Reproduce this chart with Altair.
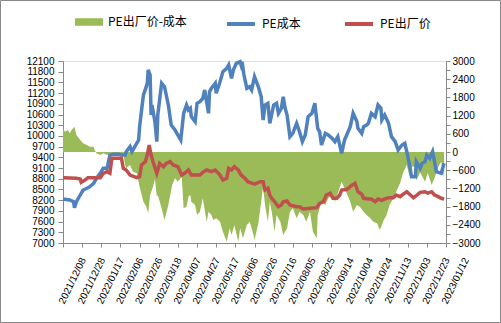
import altair as alt
import pandas as pd

# ---------------- data ----------------
cost_dates = [
    "2021-12-08", "2021-12-15", "2021-12-19", "2021-12-20", "2021-12-22", "2021-12-26",
    "2021-12-29", "2022-01-02", "2022-01-05", "2022-01-09", "2022-01-12", "2022-01-16",
    "2022-01-19", "2022-01-23", "2022-01-26", "2022-01-30", "2022-02-04", "2022-02-07",
    "2022-02-11", "2022-02-12", "2022-02-16", "2022-02-18", "2022-02-21", "2022-02-25",
    "2022-02-26", "2022-03-02", "2022-03-05", "2022-03-06", "2022-03-07", "2022-03-09",
    "2022-03-10", "2022-03-11", "2022-03-14", "2022-03-16", "2022-03-17", "2022-03-21",
    "2022-03-24", "2022-03-28", "2022-03-31", "2022-04-04", "2022-04-07", "2022-04-10",
    "2022-04-13", "2022-04-16", "2022-04-18", "2022-04-20", "2022-04-21", "2022-04-25",
    "2022-04-27", "2022-04-30", "2022-05-03", "2022-05-05", "2022-05-07", "2022-05-09",
    "2022-05-10", "2022-05-12", "2022-05-16", "2022-05-17", "2022-05-21", "2022-05-24",
    "2022-05-28", "2022-05-30", "2022-06-02", "2022-06-04", "2022-06-07", "2022-06-11",
    "2022-06-12", "2022-06-13", "2022-06-15", "2022-06-18", "2022-06-21", "2022-06-23",
    "2022-06-26", "2022-06-30", "2022-07-03", "2022-07-05", "2022-07-07", "2022-07-10",
    "2022-07-12", "2022-07-16", "2022-07-19", "2022-07-21", "2022-07-24", "2022-07-26",
    "2022-07-28", "2022-07-30", "2022-08-02", "2022-08-05", "2022-08-09", "2022-08-12",
    "2022-08-15", "2022-08-18", "2022-08-21", "2022-08-25", "2022-08-28", "2022-08-31",
    "2022-09-02", "2022-09-04", "2022-09-08", "2022-09-11", "2022-09-15", "2022-09-18",
    "2022-09-21", "2022-09-25", "2022-09-28", "2022-10-04", "2022-10-07", "2022-10-11",
    "2022-10-12", "2022-10-16", "2022-10-18", "2022-10-21", "2022-10-23", "2022-10-26",
    "2022-10-30", "2022-11-02", "2022-11-05", "2022-11-06", "2022-11-09", "2022-11-13",
    "2022-11-16", "2022-11-20", "2022-11-23", "2022-11-27", "2022-11-30", "2022-12-02",
    "2022-12-05", "2022-12-07", "2022-12-11", "2022-12-12", "2022-12-16", "2022-12-18",
    "2022-12-21", "2022-12-23", "2022-12-26", "2022-12-29", "2022-12-31", "2023-01-02",
    "2023-01-07", "2023-01-10",
]
cost_vals = [
    8233, 8205, 8157, 7990, 8157, 8345,
    8485, 8533, 8578, 8673, 8813, 8960,
    9093, 9093, 9466, 9485, 9485, 9466,
    9466, 9559, 9700, 9559, 9700, 9886,
    10260, 11147, 11380, 11475, 11850, 11707,
    10587, 10867, 10400, 9840, 10587, 11475,
    11380, 10867, 10306, 10166, 10026, 9886,
    10634, 10867, 10727, 10774, 10540, 10400,
    10914, 10960, 11054, 11287, 10960, 10634,
    11240, 11335, 11475, 11195, 11520, 11800,
    11895, 11988, 11615, 11850, 12035, 12080,
    11988, 12080, 11707, 11335, 11380, 11287,
    11660, 11380, 11100, 10446, 10867, 10914,
    10354, 10867, 10914, 10634, 10774, 11100,
    10774, 10587, 9980, 10073, 10354, 10120,
    9840, 10026, 10540, 10634, 10914, 10213,
    10120, 9746, 10073, 10026, 9933, 9840,
    9980, 9513, 9886, 10259, 10634, 10400,
    10213, 10073, 10259, 10306, 10354, 10634,
    10540, 10867, 10774, 10446, 10587, 10354,
    9980, 9840, 9606, 9746, 9793, 9559,
    9186, 8858, 8858, 9278, 9093, 9233,
    9278, 9466, 9373, 9559, 9278, 8998,
    8953, 9233,
]

price_dates = [
    "2021-12-08", "2021-12-22", "2021-12-26", "2021-12-27", "2021-12-31", "2022-01-03",
    "2022-01-16", "2022-01-19", "2022-01-23", "2022-01-26", "2022-01-28", "2022-02-07",
    "2022-02-09", "2022-02-12", "2022-02-16", "2022-02-23", "2022-02-26", "2022-02-28",
    "2022-03-04", "2022-03-06", "2022-03-08", "2022-03-10", "2022-03-12", "2022-03-16",
    "2022-03-19", "2022-03-23", "2022-03-26", "2022-03-30", "2022-04-02", "2022-04-07",
    "2022-04-11", "2022-04-14", "2022-04-18", "2022-04-21", "2022-04-30", "2022-05-03",
    "2022-05-07", "2022-05-12", "2022-05-16", "2022-05-21", "2022-05-24", "2022-05-28",
    "2022-05-30", "2022-06-02", "2022-06-05", "2022-06-09", "2022-06-12", "2022-06-16",
    "2022-06-19", "2022-06-26", "2022-07-02", "2022-07-05", "2022-07-07", "2022-07-10",
    "2022-07-12", "2022-07-14", "2022-07-17", "2022-07-21", "2022-07-24", "2022-07-26",
    "2022-07-30", "2022-08-02", "2022-08-09", "2022-08-12", "2022-08-16", "2022-08-23",
    "2022-08-30", "2022-09-02", "2022-09-06", "2022-09-09", "2022-09-13", "2022-09-16",
    "2022-09-20", "2022-09-23", "2022-09-25", "2022-09-30", "2022-10-02", "2022-10-05",
    "2022-10-09", "2022-10-12", "2022-10-16", "2022-10-18", "2022-10-23", "2022-10-26",
    "2022-10-30", "2022-11-02", "2022-11-06", "2022-11-09", "2022-11-13", "2022-11-18",
    "2022-11-21", "2022-11-25", "2022-11-28", "2022-12-02", "2022-12-05", "2022-12-09",
    "2022-12-12", "2022-12-16", "2022-12-21", "2022-12-24", "2022-12-28", "2022-12-31",
    "2023-01-04", "2023-01-07", "2023-01-10",
]
price_vals = [
    8830, 8813, 8793, 8700, 8765, 8830,
    8830, 8953, 8998, 8953, 9373, 9373,
    9093, 9046, 8905, 8830, 8858, 9186,
    9278, 9466, 9746, 9466, 9278, 8953,
    9233, 9138, 9233, 9278, 9186, 9138,
    8905, 8953, 9046, 8905, 8905, 8980,
    9046, 8998, 9046, 8905, 8765, 8813,
    9093, 9046, 9138, 9046, 8905, 8813,
    8718, 8650, 8718, 8718, 8485, 8533,
    8345, 8252, 8157, 8017, 8065, 8157,
    8177, 8065, 8017, 8017, 7953, 7972,
    7990, 8112, 8157, 8345, 8392, 8252,
    8252, 8345, 8485, 8500, 8533, 8605,
    8673, 8437, 8365, 8252, 8233, 8233,
    8157, 8233, 8196, 8233, 8270, 8270,
    8345, 8298, 8365, 8437, 8365, 8270,
    8326, 8420, 8437, 8400, 8437, 8345,
    8298, 8252, 8233,
]

diff_dates = [
    "2021-12-08", "2021-12-10", "2021-12-13", "2021-12-15", "2021-12-17", "2021-12-20",
    "2021-12-22", "2021-12-26", "2021-12-29", "2022-01-02", "2022-01-05", "2022-01-09",
    "2022-01-10", "2022-01-12", "2022-01-16", "2022-01-19", "2022-01-23", "2022-01-26",
    "2022-01-30", "2022-02-07", "2022-02-09", "2022-02-11", "2022-02-12", "2022-02-16",
    "2022-02-19", "2022-02-23", "2022-02-26", "2022-03-02", "2022-03-05", "2022-03-07",
    "2022-03-09", "2022-03-12", "2022-03-14", "2022-03-16", "2022-03-17", "2022-03-21",
    "2022-03-24", "2022-03-28", "2022-04-01", "2022-04-04", "2022-04-07", "2022-04-11",
    "2022-04-13", "2022-04-16", "2022-04-18", "2022-04-20", "2022-04-21", "2022-04-25",
    "2022-04-27", "2022-04-30", "2022-05-03", "2022-05-07", "2022-05-09", "2022-05-12",
    "2022-05-14", "2022-05-17", "2022-05-21", "2022-05-24", "2022-05-28", "2022-05-31",
    "2022-06-02", "2022-06-05", "2022-06-09", "2022-06-11", "2022-06-14", "2022-06-18",
    "2022-06-21", "2022-06-25", "2022-06-26", "2022-06-30", "2022-07-03", "2022-07-05",
    "2022-07-07", "2022-07-10", "2022-07-12", "2022-07-14", "2022-07-17", "2022-07-19",
    "2022-07-23", "2022-07-26", "2022-07-30", "2022-08-02", "2022-08-05", "2022-08-09",
    "2022-08-12", "2022-08-16", "2022-08-19", "2022-08-23", "2022-08-26", "2022-08-30",
    "2022-08-31", "2022-09-04", "2022-09-08", "2022-09-11", "2022-09-15", "2022-09-18",
    "2022-09-21", "2022-09-25", "2022-09-28", "2022-10-04", "2022-10-07", "2022-10-11",
    "2022-10-14", "2022-10-18", "2022-10-21", "2022-10-25", "2022-10-28", "2022-11-01",
    "2022-11-04", "2022-11-08", "2022-11-11", "2022-11-14", "2022-11-18", "2022-11-21",
    "2022-11-25", "2022-11-28", "2022-12-02", "2022-12-05", "2022-12-07", "2022-12-11",
    "2022-12-12", "2022-12-16", "2022-12-21", "2022-12-24", "2022-12-28", "2022-12-31",
    "2023-01-04", "2023-01-07", "2023-01-10",
]
diff_vals = [
    782, 670, 725, 617, 725, 835,
    561, 396, 287, 231, 177, 177,
    66, -43, -99, -43, -99, -43,
    -100, -100, -99, -429, -539, -429,
    -649, -704, -1144, -1638, -1803, -2020,
    -1417, -1144, -900, -1473, -1418, -1858,
    -2242, -1747, -1088, -867, -979, -814,
    -1858, -1803, -1473, -1418, -1638, -1747,
    -2077, -1968, -1528, -2298, -1968, -2077,
    -2242, -2187, -2298, -2627, -2957, -2517,
    -2736, -2407, -2957, -2517, -2847, -2407,
    -2298, -2736, -2901, -2352, -1638, -1144,
    -1747, -2298, -1638, -1968, -2627, -2077,
    -2298, -2737, -2517, -1968, -1858, -2187,
    -1968, -2077, -2298, -1968, -2627, -2847,
    -2077, -1638, -1747, -1528, -1418, -1638,
    -1363, -979, -1196, -1638, -1968, -1747,
    -1803, -1968, -2077, -2187, -2298, -2352,
    -2571, -2242, -2077, -1747, -1528, -1309,
    -1034, -704, -429, -820, -490, -480,
    -950, -670, -979, -693, -1088, -867,
    -484, -320, -867,
]

area_name = ["PE出厂价-成本"]
area_color = ["#9BBB59"]
line_names = ["PE成本", "PE出厂价"]
line_colors = ["#4F81BD", "#C0504D"]

x_tick_labels = [
    "2021/12/08", "2021/12/28", "2022/01/17", "2022/02/06", "2022/02/26", "2022/03/18",
    "2022/04/07", "2022/04/27", "2022/05/17", "2022/06/06", "2022/06/26", "2022/07/16",
    "2022/08/05", "2022/08/25", "2022/09/14", "2022/10/04", "2022/10/24", "2022/11/13",
    "2022/12/03", "2022/12/23", "2023/01/12",
]
left_ticks = [7000, 7300, 7600, 7900, 8200, 8500, 8800, 9100, 9400, 9700, 10000,
              10300, 10600, 10900, 11200, 11500, 11800, 12100]
right_ticks = [-3000, -2700, -2400, -2100, -1800, -1500, -1200, -900, -600, -300, 0,
               300, 600, 900, 1200, 1500, 1800, 2100, 2400, 2700, 3000]

# ---------------- tables ----------------
df_cost = pd.DataFrame({"date": cost_dates, "value": cost_vals, "series": line_names[0]})
df_price = pd.DataFrame({"date": price_dates, "value": price_vals, "series": line_names[1]})
df_diff = pd.DataFrame({"date": diff_dates, "value": diff_vals, "series": area_name[0]})


def dt(label):
    y, m, d = (int(p) for p in label.split("/"))
    return alt.DateTime(year=y, month=m, date=d, utc=True)


tick_dates = [dt(s) for s in x_tick_labels]
x_scale = alt.Scale(type="utc", domain=[tick_dates[0], tick_dates[-1]], nice=False)

AXIS_GRAY = "#868686"
x_axis = alt.Axis(
    values=tick_dates, format="%Y/%m/%d", formatType="time", labelAngle=-64,
    labelAlign="right", labelBaseline="middle", labelOffset=20, labelPadding=11,
    labelOverlap=False, labelFlush=False, tickSize=4, title=None, grid=False,
)

legend_common = dict(
    orient="none", direction="horizontal", title=None, symbolSize=784,
    labelOffset=5, labelFontSize=12, labelFont="Noto Sans CJK SC", labelColor="#000000",
    padding=0, symbolOpacity=1,
)

area_color_enc = alt.Color(
    "series:N",
    scale=alt.Scale(domain=area_name, range=area_color),
    legend=alt.Legend(legendX=12, legendY=-53, symbolType="M-1,-0.27H1V0.27H-1Z",
                      symbolStrokeWidth=0, **legend_common),
)
line_color_enc = alt.Color(
    "series:N",
    scale=alt.Scale(domain=line_names, range=line_colors),
    legend=alt.Legend(legendX=162, legendY=-53, symbolType="stroke", symbolStrokeWidth=4,
                      columnPadding=36, **legend_common),
)

area = alt.Chart(df_diff).mark_area(opacity=1, interpolate="linear").encode(
    x=alt.X("date:T", scale=x_scale, axis=x_axis),
    y=alt.Y("value:Q", scale=alt.Scale(domain=[-3000, 3000], nice=False, zero=False),
            axis=alt.Axis(orient="right", values=right_ticks, format="d", title=None,
                          grid=False, tickSize=4, labelPadding=2)),
    color=area_color_enc,
)

left_y = alt.Y("value:Q", scale=alt.Scale(domain=[7000, 12100], nice=False, zero=False),
               axis=alt.Axis(orient="left", values=left_ticks, format="d", title=None,
                             grid=False, tickSize=5, labelPadding=4))

blue = alt.Chart(df_cost).mark_line(strokeWidth=3.5, interpolate="linear").encode(
    x=alt.X("date:T", scale=x_scale, axis=x_axis), y=left_y, color=line_color_enc)
red = alt.Chart(df_price).mark_line(strokeWidth=3.5, interpolate="linear").encode(
    x=alt.X("date:T", scale=x_scale, axis=x_axis), y=left_y, color=line_color_enc)

border = alt.Chart(pd.DataFrame({"k": [0]})).mark_rect(
    fill="transparent", stroke="#888888", strokeWidth=1
).encode(x=alt.value(-62.5), x2=alt.value(437.5), y=alt.value(-60.5), y2=alt.value(261.5))

chart = alt.layer(area, alt.layer(blue, red), border).resolve_scale(
    y="independent", color="independent"
).resolve_legend(color="independent").properties(
    width=383, height=182,
    autosize=alt.AutoSizeParams(type="none"),
    padding={"left": 63, "top": 61, "right": 55, "bottom": 80},
).configure_view(stroke=None).configure_axis(
    labelFont="Liberation Sans", labelFontSize=12, labelColor="#000000",
    domainColor=AXIS_GRAY, tickColor=AXIS_GRAY, domainWidth=1, tickWidth=1,
).configure(background="#ffffff")

chart.save("out.html", embed_options={"renderer": "svg", "actions": False})
